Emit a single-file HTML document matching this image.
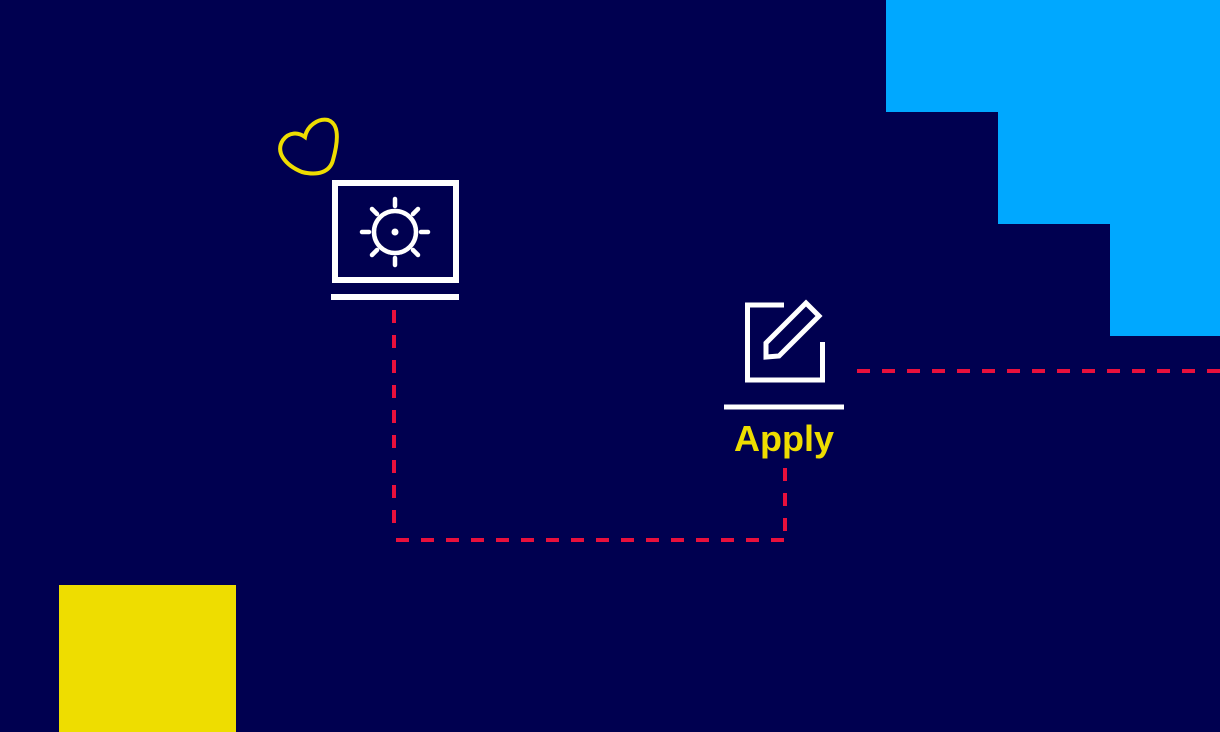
<!DOCTYPE html>
<html><head><style>html,body{margin:0;padding:0;background:#000050;overflow:hidden}</style></head>
<body>
<svg width="1220" height="732" xmlns="http://www.w3.org/2000/svg" style="display:block">
<rect width="1220" height="732" fill="#000050"/>
<path d="M886 0H1220V336H1110V224H998V112H886Z" fill="#00a8ff"/>
<rect x="59" y="585" width="177" height="147" fill="#eedd00"/>
<g stroke="#e8103c" stroke-width="4" fill="none" stroke-dasharray="13 12">
<path d="M394 310V528"/>
<path d="M396 540H785"/>
<path d="M785 468V540"/>
<path d="M857 371H1220"/>
</g>
<path d="M302 172C285 165 275 152 283 140C289 132 298 132 305 137C307 126 318 118 328 120C340 124 338 142 333 160C330 172 318 176 302 172Z" fill="none" stroke="#eedd00" stroke-width="4"/>
<g stroke="#fff" fill="none" stroke-width="6">
<rect x="335" y="183" width="121" height="97"/>
<path d="M331 297H459"/>
</g>
<g stroke="#fff" fill="none" stroke-width="4.5" stroke-linecap="round">
<circle cx="395" cy="232" r="21"/>
<path d="M395 199V206M395 258V265M362 232H369M421 232H428M372 209L377 214M418 209L413 214M372 255L377 250M418 255L413 250"/>
</g>
<circle cx="395" cy="232" r="3.5" fill="#fff"/>
<g stroke="#fff" fill="none" stroke-width="5">
<path d="M784 305H747.5V380H822.5V342"/>
<path d="M766 343L806 303L819 316L779 356L766 357Z"/>
<path d="M724 407H844"/>
</g>
<text x="784" y="451" text-anchor="middle" font-family="Liberation Sans, sans-serif" font-weight="bold" font-size="36" fill="#eedd00">Apply</text>
</svg>
</body></html>
